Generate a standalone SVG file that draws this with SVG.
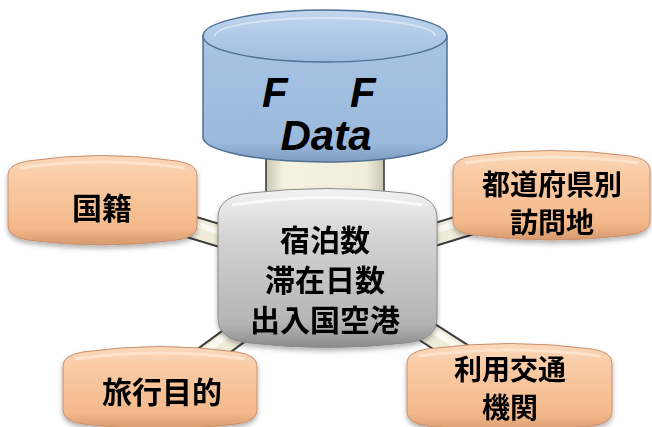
<svg xmlns="http://www.w3.org/2000/svg" width="652" height="427" viewBox="0 0 652 427">
<style>
.jp{font-family:"Noto Sans CJK JP","Noto Sans CJK SC",sans-serif;font-weight:bold;font-size:30px;fill:#000;text-anchor:middle}
.jp2{font-family:"Noto Sans CJK JP","Noto Sans CJK SC",sans-serif;font-weight:bold;font-size:28px;fill:#000;text-anchor:middle}
.en{font-family:"Liberation Sans",Arial,sans-serif;font-weight:bold;font-style:italic;font-size:42px;fill:#000}
.orange{fill:url(#gOrange);stroke:#c89070;stroke-width:1}
.tubeO{stroke:#3a3a3a;stroke-width:24;stroke-linecap:butt;fill:none}
.tubeI{stroke:#efedd9;stroke-width:20;stroke-linecap:butt;fill:none}
.tubeH{stroke:#fbfaf2;stroke-width:6;stroke-linecap:butt;fill:none}
</style>
<defs>
<linearGradient id="gOrange" x1="0" y1="0" x2="0" y2="1">
<stop offset="0" stop-color="#fbd9bb"/>
<stop offset="0.25" stop-color="#f9cba5"/>
<stop offset="0.8" stop-color="#f4b98c"/>
<stop offset="1" stop-color="#d89a6c"/>
</linearGradient>
<linearGradient id="gGray" x1="0" y1="0" x2="0" y2="1">
<stop offset="0" stop-color="#f2f2f2"/>
<stop offset="0.3" stop-color="#d4d4d4"/>
<stop offset="0.85" stop-color="#b4b4b4"/>
<stop offset="1" stop-color="#8a8a8a"/>
</linearGradient>
<linearGradient id="gBlue" x1="0" y1="0" x2="0" y2="1">
<stop offset="0" stop-color="#a8c4e4"/>
<stop offset="0.85" stop-color="#9ab9dc"/>
<stop offset="1" stop-color="#7c9cc0"/>
</linearGradient>
<linearGradient id="gBlueTop" x1="0" y1="0" x2="0" y2="1">
<stop offset="0" stop-color="#c2d6ee"/>
<stop offset="1" stop-color="#9fbde0"/>
</linearGradient>
<linearGradient id="gStem" x1="0" y1="0" x2="1" y2="0">
<stop offset="0" stop-color="#c9c7b4"/>
<stop offset="0.15" stop-color="#f4f2e0"/>
<stop offset="0.85" stop-color="#f0eedb"/>
<stop offset="1" stop-color="#c9c7b4"/>
</linearGradient>
<filter id="sh" x="-10%" y="-10%" width="120%" height="130%">
<feDropShadow dx="0" dy="3" stdDeviation="2.5" flood-color="#000" flood-opacity="0.3"/>
</filter>
</defs>

<g id="connectors">
<rect x="266" y="150" width="118" height="50" fill="url(#gStem)" stroke="#333" stroke-width="1.5"/>
<line class="tubeO" x1="327" y1="268" x2="102" y2="200"/>
<line class="tubeI" x1="327" y1="268" x2="102" y2="200"/>
<line class="tubeH" x1="327" y1="264" x2="102" y2="196"/>
<line class="tubeO" x1="327" y1="268" x2="553" y2="198"/>
<line class="tubeI" x1="327" y1="268" x2="553" y2="198"/>
<line class="tubeH" x1="327" y1="264" x2="553" y2="194"/>
<line class="tubeO" x1="327" y1="268" x2="160" y2="390"/>
<line class="tubeI" x1="327" y1="268" x2="160" y2="390"/>
<line class="tubeH" x1="323" y1="265" x2="156" y2="387"/>
<line class="tubeO" x1="327" y1="268" x2="510" y2="385"/>
<line class="tubeI" x1="327" y1="268" x2="510" y2="385"/>
<line class="tubeH" x1="330" y1="265" x2="513" y2="382"/>
</g>

<g id="node-data">
<path d="M203,36 L203,137 A122,25 0 0 0 447,137 L447,36 Z" fill="url(#gBlue)" stroke="#4f6f93" stroke-width="1.5"/>
<ellipse cx="325" cy="36" rx="122" ry="26" fill="url(#gBlueTop)" stroke="#4f6f93" stroke-width="1.5"/>
<path d="M215,36 A110,18 0 0 1 435,36" fill="none" stroke="#e2ecf7" stroke-width="2" opacity="0.7"/>
<text class="en"><tspan x="262" y="107">F</tspan><tspan x="350" y="107">F</tspan></text>
<text class="en" x="326" y="150" text-anchor="middle">Data</text>
</g>

<g id="node-center" filter="url(#sh)">
<path d="M218,218 Q218,196 250,193 Q327,184 405,193 Q437,196 437,218 L437,318 Q437,340 405,343 Q327,352 250,343 Q218,340 218,318 Z" fill="url(#gGray)" stroke="#8a8a8a" stroke-width="1"/>
<path d="M232,205 Q327,190 422,205" fill="none" stroke="#fff" stroke-width="3" opacity="0.7"/>
<text class="jp" x="325" y="251">宿泊数</text>
<text class="jp" x="325" y="291">滞在日数</text>
<text class="jp" x="325" y="331">出入国空港</text>
</g>

<g id="node-kokuseki" filter="url(#sh)">
<path d="M8,175 Q8,164 28,161 Q102,150 177,161 Q197,164 197,175 L197,226 Q197,237 177,240 Q102,250 28,240 Q8,237 8,226 Z" class="orange"/>
<path d="M20,168 Q102,156 185,168" fill="none" stroke="#fde8d4" stroke-width="3" opacity="0.8"/>
<text class="jp" x="102" y="219">国籍</text>
</g>

<g id="node-todofuken" filter="url(#sh)">
<path d="M453,170 Q453,159 473,156 Q551,145 630,156 Q650,159 650,170 L650,221 Q650,232 630,235 Q551,245 473,235 Q453,232 453,221 Z" class="orange"/>
<path d="M465,163 Q551,151 638,163" fill="none" stroke="#fde8d4" stroke-width="3" opacity="0.8"/>
<text class="jp2" x="552" y="195">都道府県別</text>
<text class="jp2" x="552" y="233">訪問地</text>
</g>

<g id="node-ryoko" filter="url(#sh)">
<path d="M63,366 Q63,355 83,352 Q160,341 237,352 Q257,355 257,366 L257,410 Q257,421 237,424 Q160,434 83,424 Q63,421 63,410 Z" class="orange"/>
<path d="M75,359 Q160,347 245,359" fill="none" stroke="#fde8d4" stroke-width="3" opacity="0.8"/>
<text class="jp" x="162" y="403">旅行目的</text>
</g>

<g id="node-kotsu" filter="url(#sh)">
<path d="M407,363 Q407,352 427,349 Q510,338 592,349 Q612,352 612,363 L612,412 Q612,423 592,426 Q510,436 427,426 Q407,423 407,412 Z" class="orange"/>
<path d="M419,356 Q510,344 600,356" fill="none" stroke="#fde8d4" stroke-width="3" opacity="0.8"/>
<text class="jp2" x="510" y="380">利用交通</text>
<text class="jp2" x="510" y="418">機関</text>
</g>
</svg>
